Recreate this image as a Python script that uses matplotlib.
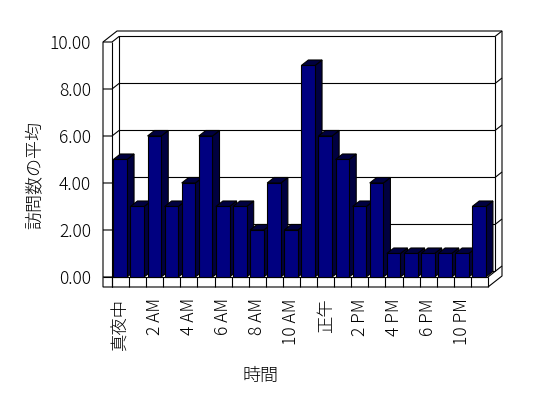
import numpy as np
import matplotlib.pyplot as plt

plt.rcParams['font.family'] = ['Noto Sans CJK JP', 'DejaVu Sans']
plt.rcParams['font.weight'] = 'light'

# data
hours = ["真夜中", "1 AM", "2 AM", "3 AM", "4 AM", "5 AM", "6 AM", "7 AM",
         "8 AM", "9 AM", "10 AM", "11 AM", "正午", "1 PM", "2 PM", "3 PM",
         "4 PM", "5 PM", "6 PM", "7 PM", "10 PM", "11 PM"]
visits = [5, 3, 6, 3, 4, 6, 3, 3, 2, 4, 2, 9, 6, 5, 3, 4, 1, 1, 1, 1, 1, 3]
y_ticks = [0, 2, 4, 6, 8, 10]

BAR = "#000080"
SHADE = "#000040"
LW = 0.8

n = len(hours)
ymax = y_ticks[-1]
dx, dy = 0.41, 0.234    # depth of the plot box (category / value units)
tx, ty = 0.527, 0.426   # thickness of left wall and floor

fig = plt.figure(figsize=(5.48, 3.98), dpi=100)
ax = fig.add_axes([103 / 548, 1 - 287 / 398, 399 / 548, 256 / 398])
ax.set_xlim(-tx, n + 2 * dx)
ax.set_ylim(-ty, ymax + 2 * dy)
ax.patch.set_visible(False)
for s in ax.spines.values():
    s.set_visible(False)


def line(xs, ys):
    ax.plot(xs, ys, color="black", lw=LW, clip_on=False, zorder=2,
            solid_capstyle="butt")


# outer box of walls and floor
outline_x = [-tx, n, n + 2 * dx, n + 2 * dx, -tx + 2 * dx, -tx]
outline_y = [-ty, -ty, -ty + 2 * dy, ymax + 2 * dy, ymax + 2 * dy, ymax]
ax.fill(outline_x, outline_y, facecolor="white", edgecolor="black",
        lw=LW, clip_on=False, zorder=1)

# gridlines wrapping round the walls
for v in y_ticks:
    line([-tx, 0, dx, n + dx, n + 2 * dx], [v, v, v + dy, v + dy, v + 2 * dy])

# wall edges
line([0, 0], [-ty, ymax])
line([dx, dx], [dy, ymax + dy])
line([n + dx, n + dx], [dy, ymax + dy])
line([-tx, n], [0, 0])
line([n, n + dx], [0, dy])

# category divisions on the floor front
for k in range(n + 1):
    line([k, k], [-ty, 0])

# 3d bars
w = 0.8
for i, v in enumerate(visits):
    x0 = i + 0.08
    z = 3 + i * 0.01
    ax.fill([x0 + w, x0 + w + dx, x0 + w + dx, x0 + w],
            [0, dy, v + dy, v], facecolor=SHADE, edgecolor="black",
            lw=LW, zorder=z, clip_on=False)
    ax.fill([x0, x0 + w, x0 + w + dx, x0 + dx],
            [v, v, v + dy, v + dy], facecolor=SHADE, edgecolor="black",
            lw=LW, zorder=z, clip_on=False)
    ax.bar(x0, v, width=w, align="edge", color=BAR, edgecolor="black",
           lw=LW, zorder=z + 0.001, clip_on=False)

ax.set_yticks(y_ticks, [f"{v:.2f}" for v in y_ticks])
ax.tick_params(axis="y", length=0, pad=8.6, labelsize=12.5)
ax.set_xticks(np.arange(0, n, 2) + 0.5, hours[::2], rotation=90)
ax.tick_params(axis="x", length=0, pad=8, labelsize=12.5)

fig.text(35 / 548, 1 - 175 / 398, "訪問数の平均", rotation=90,
         ha="center", va="center", fontsize=13)
fig.text(260 / 548, 1 - 376 / 398, "時間", ha="center", va="center",
         fontsize=13)

fig.savefig("out.png", dpi=100)
